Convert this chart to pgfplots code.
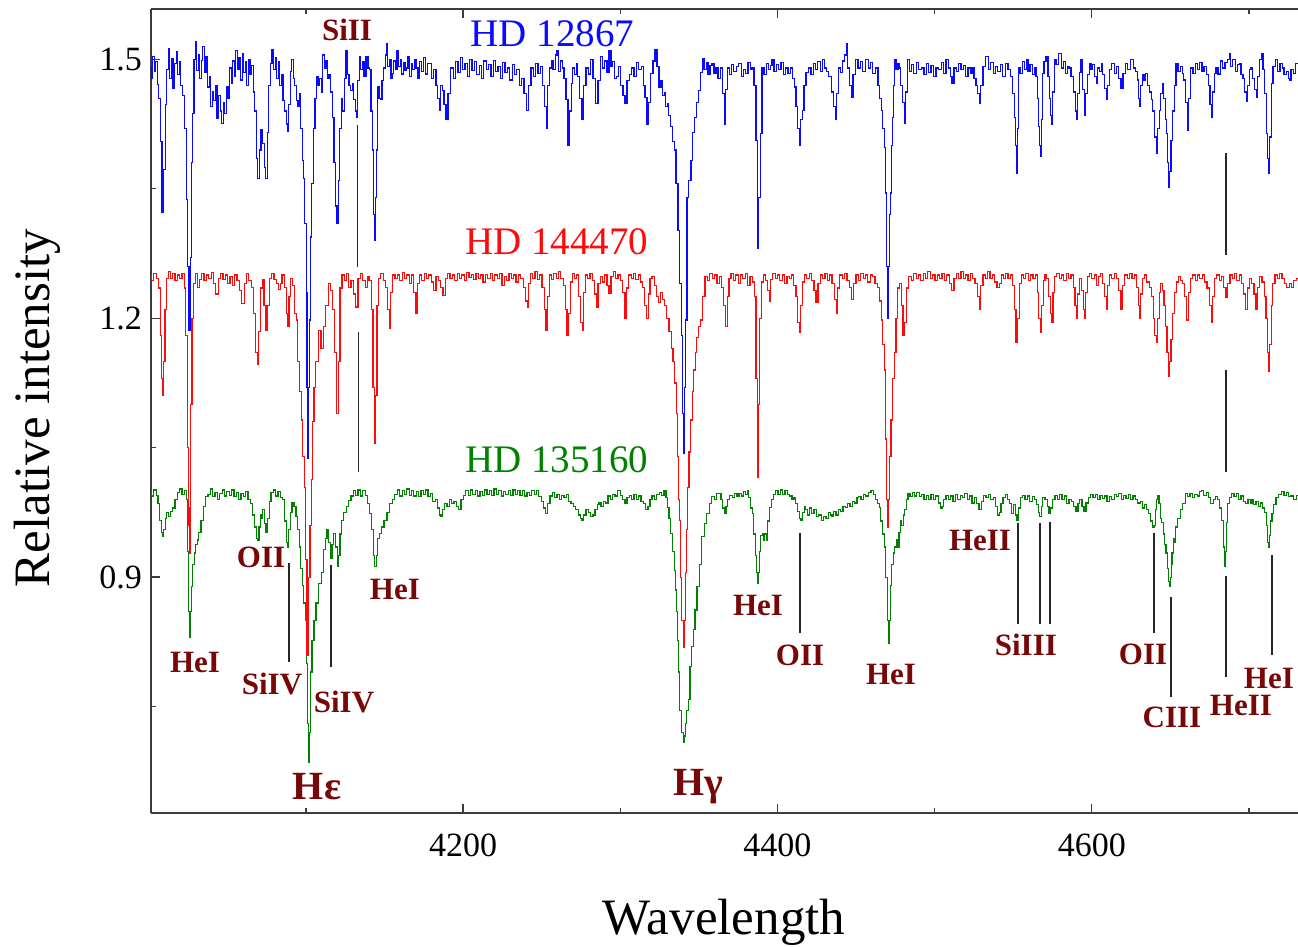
\documentclass[border=0pt]{standalone}
\usepackage{pgfplots}
\usepackage{pgfplotstable}
\pgfplotsset{compat=1.18}
\usepackage{fontspec}
\setmainfont{Liberation Serif}
\definecolor{specblue}{RGB}{10,10,255}
\definecolor{specred}{RGB}{255,10,10}
\definecolor{specgreen}{RGB}{0,130,0}
\definecolor{labred}{RGB}{120,8,8}
\definecolor{axgray}{RGB}{60,60,60}

\pgfplotstableread{
x y
4001 1.492
4002 1.478
4003 1.503
4004 1.486
4005 1.497
4006 1.471
4007 1.455
4008 1.405
4009 1.323
4010 1.372
4011 1.448
4012 1.488
4013 1.512
4014 1.478
4015 1.501
4016 1.466
4017 1.495
4018 1.509
4019 1.482
4020 1.497
4021 1.470
4022 1.458
4023.5 1.420
4024.5 1.338
4025.3 1.260
4026 1.186
4026.8 1.270
4027.5 1.380
4028.3 1.437
4029.3 1.500
4030.2 1.520
4031 1.487
4032 1.506
4033 1.478
4034 1.499
4035 1.515
4036 1.485
4037 1.503
4038 1.468
4039 1.480
4040 1.445
4041 1.462
4042 1.452
4043 1.470
4044 1.432
4045 1.458
4046 1.440
4047 1.426
4048 1.450
4049 1.437
4050 1.468
4051 1.455
4052 1.490
4053 1.472
4054 1.498
4055 1.480
4056 1.510
4057 1.488
4058 1.502
4059 1.476
4060 1.507
4061 1.485
4062 1.497
4063 1.470
4064 1.500
4065 1.482
4066 1.493
4067 1.462
4068 1.440
4069 1.385
4070 1.362
4071 1.395
4072 1.418
4073 1.402
4074 1.375
4075 1.362
4076 1.415
4077 1.470
4078 1.495
4079 1.511
4080 1.488
4081 1.502
4082 1.478
4083 1.497
4084 1.470
4085 1.482
4086 1.452
4087 1.440
4088 1.425
4088.7 1.416
4089.5 1.448
4090.5 1.486
4091.5 1.500
4092.5 1.478
4093.5 1.470
4094.5 1.452
4095.5 1.446
4096.3 1.460
4097.3 1.420
4098.2 1.383
4099 1.362
4099.8 1.310
4100.6 1.230
4101 1.120
4101.4 1.038
4101.9 1.120
4102.5 1.198
4103.4 1.294
4104.2 1.356
4105.3 1.420
4106.3 1.455
4107.3 1.480
4108.3 1.470
4109.3 1.478
4110.3 1.462
4111.3 1.505
4112.3 1.490
4113.3 1.498
4114.3 1.478
4115.3 1.482
4116.3 1.462
4117.3 1.433
4118.5 1.380
4119.5 1.330
4120.2 1.310
4121 1.360
4122 1.420
4123 1.455
4124 1.440
4125 1.478
4126 1.510
4127 1.482
4128 1.470
4129 1.464
4130 1.472
4131 1.453
4132 1.440
4132.6 1.433
4133.5 1.475
4134.5 1.503
4135.5 1.488
4136.5 1.497
4137.5 1.480
4139 1.503
4140 1.490
4141 1.488
4142 1.440
4142.7 1.395
4143.5 1.320
4144 1.290
4144.6 1.340
4145.3 1.395
4146 1.468
4147 1.455
4148 1.453
4149 1.475
4150 1.490
4151 1.505
4151.7 1.518
4152.7 1.492
4153.7 1.500
4154.7 1.478
4155.5 1.484
4156.5 1.498
4157.5 1.488
4158.6 1.510
4159.6 1.492
4160.6 1.500
4161.6 1.483
4162.6 1.496
4163.6 1.487
4164.5 1.490
4165.5 1.503
4166.5 1.480
4167.5 1.495
4168.5 1.488
4169.5 1.500
4170.7 1.490
4172 1.478
4173 1.497
4174 1.486
4175.5 1.502
4177 1.483
4178 1.495
4179 1.495
4180.5 1.478
4182 1.488
4183.5 1.470
4184.5 1.455
4185.4 1.441
4186.3 1.470
4187.3 1.464
4188.5 1.448
4189.8 1.430
4191 1.460
4193 1.490
4194.5 1.478
4196 1.497
4197.5 1.485
4199 1.502
4200.5 1.488
4202 1.495
4203.5 1.480
4205 1.500
4206.5 1.487
4208 1.497
4209.5 1.482
4211 1.493
4212.5 1.478
4214 1.498
4215.5 1.488
4217 1.494
4218.5 1.480
4220 1.499
4221.5 1.486
4223 1.492
4224.5 1.478
4226 1.496
4227.5 1.485
4229 1.490
4230.5 1.476
4232 1.494
4233.5 1.482
4235 1.488
4236.5 1.470
4238 1.478
4239.5 1.460
4241.3 1.441
4242.5 1.470
4244 1.490
4245.5 1.480
4247 1.495
4248.5 1.484
4250 1.492
4251.5 1.470
4252.5 1.445
4253.4 1.420
4254.3 1.470
4255.5 1.490
4256.6 1.499
4258 1.488
4259.2 1.505
4260.4 1.510
4261.5 1.486
4262.5 1.498
4263.6 1.490
4264.8 1.478
4266.2 1.453
4267.4 1.400
4268.4 1.440
4269.3 1.472
4270.5 1.490
4271.5 1.482
4272.5 1.495
4273.5 1.480
4275 1.455
4276.3 1.430
4277.5 1.470
4278.9 1.490
4280.5 1.483
4282 1.500
4283.5 1.478
4285.2 1.449
4286.5 1.475
4288.4 1.503
4289.5 1.490
4291 1.498
4292.2 1.485
4293.5 1.510
4294.7 1.492
4296 1.497
4297 1.478
4298 1.480
4299.5 1.492
4301 1.470
4302.5 1.458
4303.7 1.449
4305 1.475
4306.5 1.482
4308.1 1.490
4309.5 1.480
4311 1.496
4312.6 1.488
4314 1.492
4315.2 1.470
4316.4 1.456
4317.7 1.424
4318.8 1.450
4320.2 1.484
4321.5 1.498
4322.8 1.511
4324 1.492
4325.3 1.468
4326.5 1.475
4327.5 1.458
4328.5 1.461
4329.5 1.445
4330.4 1.449
4331.5 1.435
4333 1.422
4334 1.405
4334.9 1.395
4336.1 1.356
4337.4 1.302
4338.5 1.240
4339.3 1.180
4340 1.090
4340.6 1.043
4341.3 1.120
4341.9 1.198
4343.1 1.340
4344.3 1.360
4345.7 1.383
4346.7 1.415
4347.6 1.433
4349 1.450
4350.8 1.464
4351.8 1.485
4352.7 1.501
4354 1.488
4355.3 1.496
4356.5 1.482
4357.8 1.493
4359 1.495
4360.3 1.484
4361.5 1.490
4363 1.478
4364.8 1.490
4365.8 1.460
4366.7 1.424
4367.6 1.465
4368.6 1.490
4370 1.482
4371.5 1.494
4373 1.486
4374.5 1.492
4376.2 1.495
4377.7 1.480
4379 1.488
4380.7 1.484
4382 1.496
4383.3 1.488
4384.5 1.490
4385.8 1.470
4387 1.406
4387.7 1.281
4388.5 1.340
4389.6 1.414
4390.8 1.490
4392.2 1.482
4393.5 1.495
4395 1.488
4396 1.493
4397.2 1.500
4398.5 1.486
4400 1.494
4401.5 1.488
4403 1.496
4404.5 1.482
4406.1 1.490
4407.5 1.484
4409 1.490
4410.2 1.478
4411.2 1.468
4412.5 1.445
4413.5 1.420
4414.4 1.400
4415.3 1.430
4416.3 1.441
4417.5 1.470
4418.8 1.485
4420.7 1.490
4422 1.482
4423.5 1.495
4425 1.488
4426.5 1.497
4428 1.486
4429 1.500
4430.5 1.490
4432 1.486
4433.5 1.480
4435 1.462
4436.3 1.445
4437.3 1.430
4438.4 1.460
4439.8 1.490
4441 1.485
4442.3 1.498
4443.4 1.505
4444.3 1.518
4445.3 1.490
4446.5 1.470
4447.5 1.456
4448.6 1.482
4450.6 1.500
4452 1.490
4453.5 1.497
4455 1.486
4457 1.500
4458.5 1.490
4460 1.496
4461.5 1.484
4463.4 1.490
4464.5 1.470
4465.5 1.455
4466.5 1.441
4467.5 1.420
4468.4 1.398
4469.2 1.345
4469.8 1.260
4470.4 1.200
4471 1.260
4471.7 1.320
4472.3 1.345
4473 1.400
4473.5 1.433
4474.2 1.470
4474.8 1.500
4476.2 1.488
4477.2 1.495
4478 1.490
4479 1.470
4480.2 1.450
4481.2 1.426
4482.2 1.462
4483.1 1.500
4484.5 1.486
4486 1.494
4487.5 1.484
4489 1.496
4490.8 1.488
4492.6 1.490
4494 1.482
4495.5 1.495
4497 1.485
4498.5 1.493
4500 1.480
4501.7 1.490
4503.4 1.488
4505 1.496
4506.5 1.484
4508 1.500
4509.5 1.490
4510.5 1.480
4511.7 1.472
4513 1.490
4514.5 1.486
4516 1.495
4517.5 1.488
4519 1.493
4520.5 1.480
4522 1.490
4523.2 1.484
4524.4 1.490
4525.8 1.478
4527 1.470
4528 1.460
4528.9 1.449
4530 1.470
4531.5 1.492
4533.3 1.503
4535 1.488
4536.5 1.496
4538 1.484
4539.5 1.492
4541 1.486
4542.5 1.494
4544 1.480
4546 1.495
4547.5 1.488
4549 1.480
4550.3 1.460
4551.1 1.433
4551.8 1.400
4552.4 1.368
4553 1.420
4553.7 1.490
4555 1.484
4556.5 1.497
4558 1.488
4558.8 1.500
4560 1.486
4561.5 1.494
4563 1.482
4564 1.490
4565.1 1.480
4565.8 1.455
4566.4 1.422
4567.1 1.400
4567.7 1.387
4568.3 1.430
4569 1.484
4570.2 1.497
4571.5 1.503
4572.7 1.480
4573.5 1.455
4574.2 1.435
4574.7 1.424
4575.5 1.462
4576.6 1.500
4578 1.494
4579.8 1.507
4581.2 1.490
4582.5 1.497
4584 1.484
4585 1.492
4586.1 1.490
4587.5 1.480
4589 1.462
4590 1.440
4590.6 1.430
4591.5 1.460
4592.5 1.485
4593.8 1.500
4594.8 1.465
4595.7 1.435
4596.7 1.460
4597.8 1.482
4598.9 1.495
4600 1.488
4601.2 1.494
4602.3 1.480
4603.3 1.472
4604.5 1.490
4605.5 1.486
4606.5 1.495
4607.5 1.482
4608.6 1.466
4609.7 1.454
4610.8 1.470
4612 1.488
4613.5 1.495
4615 1.484
4616.5 1.492
4618 1.478
4619.2 1.466
4620.5 1.484
4622 1.495
4623.8 1.488
4625.6 1.500
4627 1.490
4628.3 1.486
4629.4 1.476
4630.1 1.455
4630.7 1.445
4631.5 1.470
4632.6 1.482
4633.8 1.476
4635 1.484
4636.2 1.470
4637.3 1.462
4638.3 1.453
4639.3 1.440
4640.5 1.410
4641.5 1.391
4642.5 1.420
4643.4 1.441
4644.3 1.460
4645.3 1.472
4646.3 1.455
4647.2 1.430
4647.8 1.414
4648.5 1.380
4649.1 1.352
4649.8 1.370
4651 1.406
4652 1.440
4653 1.470
4654.2 1.495
4655.5 1.486
4657 1.492
4658 1.484
4659 1.476
4660.2 1.450
4661.2 1.418
4662.2 1.455
4663.7 1.490
4665 1.484
4666.5 1.495
4668 1.488
4669.5 1.496
4670.7 1.486
4672 1.492
4673.5 1.482
4674.8 1.470
4675.7 1.448
4676.5 1.433
4677.5 1.462
4678.5 1.484
4679.6 1.490
4681 1.483
4682.5 1.498
4684 1.490
4685.5 1.496
4687 1.500
4687.9 1.507
4689 1.492
4690.5 1.500
4692 1.486
4693.2 1.494
4694.3 1.495
4695.5 1.482
4696.8 1.478
4697.8 1.462
4698.7 1.451
4699.8 1.470
4700.8 1.488
4701.9 1.490
4703 1.478
4704.2 1.465
4705.1 1.456
4706.2 1.480
4707.2 1.500
4708.3 1.507
4709.5 1.488
4710.5 1.460
4711.5 1.414
4712.2 1.385
4712.8 1.368
4713.6 1.410
4714.7 1.472
4716 1.492
4717.8 1.500
4719 1.486
4720.5 1.495
4721.7 1.490
4723 1.482
4724.5 1.486
4725.5 1.478
4726.1 1.476
4727.5 1.488
4729 1.484
4730 1.495
4731 1.495
}\bluedata

\pgfplotstableread{
x y
4001 1.250
4002.5 1.244
4004 1.252
4005.5 1.246
4007 1.235
4008 1.180
4008.7 1.130
4009.3 1.110
4010 1.150
4010.8 1.210
4011.8 1.246
4013 1.254
4014.5 1.246
4016 1.252
4017.5 1.244
4019 1.250
4020.5 1.246
4022 1.252
4023.2 1.235
4024.2 1.180
4025 1.050
4025.6 0.960
4026 0.928
4026.5 0.980
4027.2 1.100
4028 1.200
4029 1.240
4030.5 1.252
4032 1.236
4033 1.245
4034.5 1.252
4036 1.244
4037.5 1.250
4039 1.246
4040.5 1.253
4042 1.240
4043.5 1.228
4045 1.246
4046.5 1.252
4048 1.245
4049.5 1.250
4051 1.240
4052.5 1.248
4054 1.238
4055.5 1.250
4057 1.244
4058.5 1.232
4060 1.217
4061.5 1.240
4063 1.252
4064.5 1.244
4066 1.236
4067.3 1.205
4068.5 1.160
4069.6 1.146
4070.6 1.185
4071.6 1.235
4072.8 1.245
4074 1.215
4075.3 1.186
4076.3 1.215
4077.5 1.246
4079 1.252
4080.5 1.245
4082 1.240
4083.2 1.233
4084.3 1.240
4085.5 1.250
4087 1.236
4088 1.205
4088.8 1.190
4089.7 1.225
4091 1.246
4092.5 1.238
4093.5 1.205
4094.4 1.198
4095.5 1.150
4096.6 1.115
4097.6 1.082
4098.6 1.040
4099.4 1.004
4100.3 0.920
4101.3 0.809
4102.2 0.900
4103 0.960
4103.8 1.013
4104.8 1.080
4105.7 1.120
4107 1.150
4108.9 1.186
4110.5 1.165
4112 1.190
4113.5 1.215
4115 1.240
4116.5 1.232
4117.8 1.210
4119 1.160
4120.2 1.090
4121.2 1.150
4122.3 1.235
4123.7 1.250
4125 1.244
4126.5 1.252
4128 1.236
4129.5 1.244
4131 1.228
4132.5 1.213
4134 1.246
4135.5 1.252
4137 1.244
4138.5 1.236
4139.5 1.248
4141 1.244
4142.2 1.210
4143.2 1.120
4144 1.055
4144.8 1.110
4145.8 1.215
4147 1.246
4148.5 1.252
4150 1.244
4151.5 1.236
4152.5 1.210
4153.6 1.188
4154.6 1.230
4156 1.250
4157.5 1.246
4159 1.250
4160.5 1.244
4162 1.253
4163.5 1.246
4165 1.250
4166.5 1.240
4168 1.250
4169.5 1.230
4170.7 1.206
4171.8 1.240
4173 1.250
4174.5 1.244
4176 1.252
4177.5 1.246
4179 1.250
4180.5 1.242
4182 1.232
4183.5 1.248
4185 1.244
4186.5 1.236
4188 1.226
4189.5 1.246
4191 1.252
4192.5 1.246
4194 1.250
4195.5 1.244
4197 1.252
4198.5 1.246
4200 1.250
4201.5 1.244
4203 1.253
4204.5 1.247
4206 1.251
4207.5 1.245
4209 1.252
4210.5 1.246
4212 1.250
4213.5 1.242
4215 1.251
4216.5 1.246
4218 1.252
4219.5 1.244
4221 1.250
4222.5 1.246
4224 1.252
4225.5 1.238
4227 1.248
4228.5 1.244
4230 1.252
4231.5 1.246
4233 1.250
4234.5 1.242
4236 1.250
4237.5 1.246
4239 1.236
4240.3 1.220
4241.3 1.212
4242.3 1.240
4243.5 1.252
4245 1.246
4246.5 1.254
4248 1.245
4249.5 1.250
4251 1.236
4252.3 1.210
4253.4 1.186
4254.4 1.225
4255.5 1.250
4257 1.245
4258.5 1.252
4260 1.246
4261.5 1.254
4263 1.246
4264.5 1.238
4265.7 1.210
4266.7 1.180
4267.7 1.205
4268.8 1.242
4270 1.252
4271.5 1.246
4273 1.250
4274.3 1.225
4275.3 1.195
4276.3 1.186
4277.3 1.230
4278.5 1.250
4280 1.246
4281.5 1.252
4283 1.244
4284.3 1.228
4285.3 1.213
4286.5 1.240
4288 1.248
4289.5 1.242
4291 1.250
4292.3 1.238
4293.5 1.229
4294.8 1.248
4296.3 1.254
4297.8 1.246
4299.3 1.250
4300.8 1.244
4302.3 1.230
4303.7 1.200
4304.8 1.235
4306.2 1.250
4307.7 1.246
4309.2 1.252
4310.7 1.245
4312.2 1.250
4313.7 1.242
4315 1.236
4316.2 1.215
4317.2 1.200
4318.3 1.228
4319.5 1.246
4320.9 1.248
4322.3 1.238
4323.7 1.225
4325 1.218
4326.3 1.230
4327.6 1.222
4329 1.215
4330.4 1.200
4331.8 1.185
4333 1.165
4334.2 1.150
4335.3 1.125
4336.1 1.090
4336.6 1.040
4337.4 0.990
4337.9 0.966
4338.8 0.900
4339.6 0.850
4340.5 0.818
4341.3 0.850
4342.1 0.905
4342.7 0.955
4343.3 1.004
4344.3 1.045
4345.3 1.082
4346.3 1.115
4347.2 1.140
4348.2 1.160
4349.1 1.178
4350.4 1.190
4351.7 1.198
4353.2 1.225
4354.8 1.248
4356.3 1.244
4357.8 1.252
4359.3 1.246
4360.8 1.250
4362.3 1.240
4363.8 1.248
4365.3 1.236
4366.5 1.215
4367.6 1.190
4368.6 1.225
4369.8 1.246
4371.3 1.252
4372.8 1.244
4374.3 1.250
4375.8 1.240
4377.3 1.250
4378.8 1.246
4380.3 1.252
4381.8 1.238
4383.3 1.248
4384.8 1.242
4386 1.225
4386.9 1.130
4387.7 1.016
4388.4 1.100
4389.2 1.200
4390.3 1.242
4391.8 1.250
4393.3 1.244
4394.5 1.232
4395.3 1.220
4396.3 1.245
4397.8 1.252
4399.3 1.246
4400.8 1.250
4402.3 1.244
4403.8 1.250
4405.3 1.240
4406.8 1.248
4408.3 1.246
4409.8 1.250
4411.2 1.238
4412.5 1.225
4413.5 1.195
4414.4 1.184
4415.4 1.215
4416.5 1.242
4418 1.250
4419.5 1.246
4421 1.252
4422.5 1.244
4424 1.232
4425.2 1.218
4426.4 1.240
4428 1.250
4429.5 1.246
4431 1.252
4432.5 1.244
4434 1.250
4435.5 1.240
4436.8 1.222
4437.9 1.205
4439 1.235
4440.5 1.250
4442 1.246
4443.5 1.252
4445 1.244
4446.5 1.236
4448 1.222
4449.3 1.240
4450.8 1.250
4452.3 1.244
4453.8 1.252
4455.3 1.246
4456.8 1.250
4458.3 1.242
4459.8 1.250
4461.3 1.248
4462.8 1.240
4464.3 1.236
4465.5 1.220
4466.5 1.198
4467.5 1.170
4468.4 1.140
4469.2 1.060
4469.8 0.990
4470.4 0.958
4471 0.990
4471.7 1.040
4472.9 1.082
4474 1.130
4474.8 1.160
4476 1.200
4477.3 1.235
4478.5 1.240
4479.5 1.215
4480.4 1.180
4481.3 1.195
4482.5 1.235
4484.4 1.248
4486 1.244
4487.5 1.252
4489 1.246
4490.5 1.250
4492 1.244
4493.5 1.252
4495 1.246
4496.5 1.254
4498 1.246
4499.5 1.250
4501 1.244
4502.5 1.250
4504 1.246
4505.5 1.252
4507 1.244
4508.5 1.250
4510 1.240
4511.7 1.232
4513 1.246
4514.5 1.252
4516 1.246
4517.5 1.254
4519 1.246
4520.5 1.250
4522 1.244
4523.5 1.252
4525 1.246
4526.5 1.240
4527.8 1.225
4528.9 1.210
4530 1.238
4531.5 1.250
4533 1.246
4534.5 1.254
4536 1.246
4537.5 1.250
4539 1.242
4540.5 1.236
4541.8 1.240
4543 1.250
4544.5 1.246
4546 1.252
4547.5 1.246
4549 1.250
4550.3 1.238
4551.3 1.210
4552.4 1.172
4553.3 1.200
4554.3 1.240
4555.8 1.250
4557.3 1.246
4558.8 1.252
4560.3 1.244
4561.8 1.250
4563.3 1.246
4564.8 1.250
4565.9 1.230
4566.8 1.200
4567.7 1.184
4568.6 1.215
4569.6 1.244
4570.8 1.250
4572 1.246
4573.3 1.225
4574.2 1.205
4574.9 1.195
4575.8 1.230
4577 1.248
4578.5 1.252
4580 1.246
4581.5 1.250
4583 1.244
4584.5 1.252
4586 1.246
4587.5 1.250
4588.8 1.236
4589.8 1.215
4590.6 1.200
4591.5 1.228
4592.8 1.246
4594 1.232
4595 1.210
4595.7 1.200
4596.6 1.230
4597.8 1.248
4599.3 1.252
4600.8 1.246
4602.3 1.250
4603.5 1.238
4604.8 1.248
4606.3 1.252
4607.6 1.240
4608.7 1.225
4609.7 1.210
4610.7 1.238
4612 1.250
4613.5 1.246
4615 1.252
4616.5 1.246
4617.9 1.232
4619.2 1.210
4620.3 1.238
4621.8 1.250
4623.3 1.246
4624.8 1.252
4626.3 1.246
4627.8 1.250
4629 1.236
4630 1.215
4630.7 1.200
4631.6 1.228
4632.8 1.246
4634.3 1.250
4635.8 1.242
4637.3 1.236
4638.5 1.225
4639.6 1.200
4640.6 1.180
4641.5 1.172
4642.4 1.200
4643.3 1.230
4644.4 1.240
4645.5 1.232
4646.5 1.215
4647.5 1.190
4648.3 1.160
4649.1 1.132
4649.9 1.150
4650.8 1.175
4651.8 1.205
4653 1.230
4654.4 1.242
4655.8 1.248
4657.2 1.244
4658.6 1.240
4659.8 1.225
4661.2 1.198
4662.3 1.230
4663.5 1.246
4665 1.250
4666.5 1.244
4668 1.250
4669.5 1.246
4671 1.250
4672.5 1.242
4674 1.235
4675.4 1.215
4676.5 1.195
4677.5 1.225
4678.8 1.246
4680.3 1.250
4681.8 1.244
4683.3 1.248
4684.8 1.236
4686 1.224
4687.2 1.240
4688.6 1.250
4690 1.246
4691.5 1.252
4693 1.244
4694.5 1.250
4696 1.240
4697.4 1.228
4698.7 1.210
4699.8 1.235
4701 1.246
4702.5 1.240
4703.8 1.228
4705.1 1.210
4706.2 1.236
4707.5 1.248
4709 1.242
4710.3 1.225
4711.3 1.200
4712.2 1.160
4712.8 1.138
4713.6 1.170
4714.6 1.215
4715.8 1.240
4717.3 1.250
4718.8 1.246
4720.3 1.252
4721.8 1.246
4723.3 1.240
4724.8 1.236
4726.3 1.240
4727.8 1.236
4729.3 1.244
4731 1.246
}\reddata

\pgfplotstableread{
x y
4001 1.000
4002.5 0.994
4004 1.001
4005.5 0.995
4006.5 0.985
4007.5 0.966
4008.5 0.952
4009.2 0.947
4010 0.955
4011 0.968
4012 0.975
4013 0.970
4014.5 0.976
4016 0.980
4017.5 0.990
4019 0.998
4020.5 1.002
4022 0.996
4023.5 1.000
4024.5 0.990
4025.2 0.930
4025.8 0.860
4026.3 0.830
4026.8 0.860
4027.5 0.889
4028.5 0.915
4029.5 0.928
4030.5 0.938
4031.4 0.943
4032.5 0.952
4034 0.966
4035.5 0.982
4037 0.993
4038.5 0.996
4040 1.002
4041.5 0.993
4043 0.998
4044.5 0.990
4046 0.997
4047.5 1.001
4049 0.994
4050.5 0.999
4052 0.995
4053.5 1.001
4055 0.993
4056.5 0.998
4058 0.990
4059.5 0.997
4061 0.993
4062.5 0.999
4064 0.990
4065.5 0.985
4066.8 0.972
4068 0.958
4069 0.945
4069.8 0.943
4070.6 0.958
4071.4 0.972
4072.2 0.968
4073 0.978
4074 0.962
4075.3 0.952
4076.3 0.968
4077.3 0.988
4078.5 0.998
4080 1.001
4081.5 0.994
4083 0.999
4084.5 0.992
4086 0.990
4087.3 0.965
4088.2 0.940
4088.8 0.935
4089.6 0.955
4090.5 0.975
4091.9 0.986
4093 0.982
4094.4 0.970
4095.5 0.955
4096.3 0.935
4097.3 0.910
4098.2 0.890
4099.2 0.870
4100.1 0.850
4100.8 0.800
4101.5 0.730
4102 0.685
4102.5 0.720
4103.3 0.790
4104.6 0.827
4105.8 0.850
4107.2 0.870
4109 0.893
4110.5 0.905
4112.1 0.932
4113 0.945
4114 0.955
4115 0.940
4116.2 0.922
4117.2 0.938
4118.4 0.951
4119.4 0.935
4120.4 0.912
4121.3 0.925
4122.3 0.950
4123.4 0.966
4125 0.975
4126.5 0.982
4127.9 0.989
4129.5 0.994
4131 1.000
4132.5 0.995
4134 1.001
4135.5 0.994
4137 1.000
4138.5 0.995
4140 0.985
4141.2 0.974
4142.5 0.955
4143.5 0.925
4144.3 0.912
4145.2 0.925
4146.2 0.945
4147.5 0.951
4148.8 0.958
4150.7 0.966
4152.5 0.975
4154 0.985
4155.8 0.990
4157.5 0.996
4159 1.001
4160.5 0.994
4162 1.000
4163.5 0.996
4165 1.002
4166.5 0.995
4168 1.000
4169.5 0.994
4171 0.999
4172.5 0.993
4174 1.000
4175.5 0.996
4177 1.001
4178.5 0.993
4180 0.997
4181.5 0.988
4183 0.990
4184.5 0.980
4185.5 0.972
4186.5 0.970
4187.5 0.978
4189 0.985
4190.5 0.982
4192 0.990
4193.5 0.985
4195 0.988
4196.5 0.982
4198 0.978
4199.5 0.990
4201 0.995
4202.5 1.000
4204 0.995
4205.5 1.001
4207 0.996
4208.5 1.000
4210 0.994
4211.5 0.999
4213 0.995
4214.5 1.001
4216 0.996
4217.5 1.000
4219 0.995
4220.5 1.002
4222 0.996
4223.5 1.000
4225 0.994
4226.5 0.999
4228 0.996
4229.5 1.000
4231 0.995
4232.5 1.001
4234 0.996
4235.5 1.000
4237 0.995
4238.5 1.000
4240 0.994
4241.5 0.998
4243 0.995
4244.5 1.000
4246 0.996
4247.5 1.000
4249 0.993
4250.5 0.988
4251.8 0.980
4253.4 0.974
4254.6 0.985
4256 0.994
4257.5 0.998
4259 0.992
4260.5 0.996
4262 0.990
4263.5 0.995
4265 0.992
4266.5 0.996
4268 0.988
4269.5 0.985
4271 0.982
4272.5 0.978
4274 0.972
4275 0.968
4276.3 0.966
4277.5 0.972
4279 0.978
4280.5 0.975
4282 0.970
4283.3 0.972
4284.7 0.978
4286 0.984
4287 0.986
4288.5 0.982
4290 0.988
4291.5 0.986
4293 0.994
4294.5 0.990
4296 0.996
4297.5 0.994
4299.4 1.000
4300.8 0.995
4302.3 0.990
4303.7 0.986
4305 0.992
4306.5 0.995
4308 0.990
4309.5 0.996
4311 0.990
4312.5 0.994
4314 0.988
4315.5 0.985
4317 0.978
4318.3 0.982
4319.5 0.990
4321 0.994
4322.5 0.990
4324 0.996
4325.5 0.998
4327 0.995
4328.6 1.000
4329.6 0.992
4330.5 0.981
4331.5 0.968
4332.4 0.951
4333.7 0.930
4334.9 0.908
4335.6 0.885
4336.3 0.860
4336.8 0.827
4337.4 0.790
4338.5 0.745
4339.6 0.720
4340.6 0.708
4341.3 0.716
4341.9 0.730
4342.8 0.745
4343.8 0.758
4345 0.796
4346 0.820
4346.9 0.839
4348.2 0.862
4349.5 0.889
4351 0.915
4352.7 0.947
4354.3 0.962
4355.9 0.974
4357.5 0.985
4359 0.993
4360.5 0.990
4362 0.997
4363.4 0.997
4364.8 0.990
4365.8 0.980
4366.7 0.974
4367.8 0.982
4369 0.990
4370.5 0.995
4372 0.992
4373.5 0.997
4375 0.993
4376.2 0.997
4377.7 0.994
4379.2 0.999
4380.6 0.996
4381.2 1.000
4382.5 0.992
4383.6 0.980
4384.4 0.974
4385.5 0.950
4386.5 0.925
4387.2 0.905
4387.7 0.893
4388.3 0.905
4389 0.930
4389.8 0.948
4390.8 0.951
4391.6 0.942
4392.5 0.950
4393.4 0.943
4394.3 0.965
4395.3 0.981
4396.8 0.990
4398.3 0.996
4399.7 1.000
4401.2 0.996
4402.7 1.001
4404.2 0.996
4405.6 1.000
4407 0.996
4408.5 0.994
4410 0.990
4411.2 0.992
4412.3 0.985
4413.5 0.976
4414.6 0.968
4415.5 0.966
4416.5 0.975
4417.5 0.982
4418.7 0.978
4420 0.972
4421.2 0.980
4422.5 0.974
4424 0.978
4425.5 0.970
4427 0.972
4428.8 0.966
4430.2 0.970
4431.6 0.968
4433 0.975
4434.2 0.972
4435.2 0.970
4436.5 0.976
4438 0.972
4439.5 0.978
4441 0.976
4442.5 0.982
4444 0.981
4445.5 0.985
4447 0.982
4448.5 0.988
4450 0.986
4451.2 0.992
4452.4 0.993
4454 0.990
4455.5 0.996
4457 0.994
4458.5 0.998
4460.7 1.000
4462 0.996
4463.3 0.990
4464.3 0.985
4465.2 0.981
4466.5 0.965
4467.5 0.950
4468.4 0.935
4469.5 0.900
4470.4 0.850
4471 0.823
4471.6 0.850
4472.3 0.890
4473.2 0.915
4474.2 0.928
4475.2 0.935
4476.1 0.943
4477 0.935
4477.8 0.952
4478.6 0.966
4479.5 0.960
4480.5 0.972
4481.5 0.978
4482.6 0.990
4483.7 0.997
4485 0.993
4486.5 0.998
4488 0.994
4489.5 0.998
4491 0.993
4492.5 0.996
4494 0.990
4495.5 0.995
4497 0.990
4498.5 0.996
4500 0.990
4501.5 0.994
4503 0.986
4504.2 0.980
4505.2 0.982
4506.5 0.990
4508 0.995
4509.5 0.990
4511 0.994
4512.5 0.988
4514 0.996
4515.5 0.990
4517 0.995
4518.5 0.992
4520 0.997
4521.5 0.990
4523 0.994
4524.5 0.986
4526 0.992
4527.5 0.985
4529 0.978
4530.5 0.988
4532 0.995
4533.5 0.992
4535 0.996
4536.5 0.990
4538 0.992
4539.3 0.982
4540.5 0.972
4541.6 0.975
4542.8 0.985
4544.3 0.992
4545.8 0.996
4547.3 0.990
4548.5 0.985
4549.8 0.974
4551 0.984
4552 0.972
4552.8 0.966
4553.8 0.980
4555.3 0.992
4556.8 0.995
4558.3 0.990
4559.8 0.994
4561.3 0.988
4562.8 0.993
4564.2 0.990
4565.5 0.984
4566.5 0.975
4567.3 0.970
4568.3 0.982
4569.5 0.992
4571 0.990
4572.3 0.982
4573.4 0.974
4574.5 0.980
4575.8 0.990
4577.3 0.995
4578.8 0.990
4580.3 0.996
4581.8 0.990
4583.3 0.994
4584.8 0.985
4586.3 0.990
4587.8 0.988
4589.3 0.982
4590.6 0.976
4591.8 0.985
4593 0.990
4594.5 0.982
4595.7 0.976
4597 0.986
4598.5 0.992
4600 0.996
4601.5 0.992
4603 0.996
4604.5 0.990
4606 0.995
4607.5 0.991
4609 0.994
4610.5 0.988
4612 0.993
4613.5 0.990
4615 0.996
4616.5 0.993
4618 0.997
4619.5 0.990
4621 0.995
4622.5 0.991
4624 0.996
4625.5 0.990
4627 0.994
4628.5 0.990
4630 0.986
4631.5 0.988
4632.8 0.980
4634 0.984
4635.5 0.978
4636.8 0.974
4638 0.965
4639.2 0.958
4640 0.960
4640.8 0.978
4641.6 0.990
4642.4 0.995
4643.2 0.985
4644.2 0.968
4645 0.963
4646 0.950
4646.8 0.938
4647.6 0.928
4648.4 0.910
4649 0.895
4649.5 0.889
4650.2 0.900
4650.8 0.915
4651.4 0.928
4652.2 0.945
4653 0.940
4654 0.958
4655.5 0.968
4657 0.978
4658.5 0.985
4660.3 0.997
4661.8 0.993
4663.3 0.997
4664.8 0.992
4666.3 0.996
4667.8 0.994
4669.3 0.999
4670.5 1.000
4672 0.995
4673.5 0.998
4675 0.992
4676.5 0.985
4678 0.990
4679.4 0.993
4680.8 0.990
4682 0.980
4683.3 0.966
4684 0.935
4684.6 0.912
4685.3 0.930
4685.9 0.963
4687 0.985
4688.3 0.992
4689.7 0.997
4691.2 0.993
4692.7 0.997
4694.2 0.990
4695.7 0.994
4697.2 0.988
4698.7 0.985
4700.2 0.990
4701.5 0.986
4702.4 0.990
4703.8 0.984
4705.2 0.988
4706.7 0.982
4708.2 0.986
4709.5 0.980
4710.6 0.975
4711.5 0.960
4712.2 0.940
4712.6 0.935
4713.3 0.948
4714.2 0.965
4715.1 0.974
4716.5 0.984
4718 0.992
4719.5 0.996
4721.5 0.999
4723 0.995
4724.5 0.998
4726 0.993
4727.5 0.994
4729 0.990
4731 0.995
}\greendata

\begin{document}
\begin{tikzpicture}
\useasboundingbox (-75.5pt,-67pt) rectangle (573.5pt,406.5pt);
\begin{axis}[
  at={(0pt,0pt)}, anchor=south west,
  scale only axis, width=573.5pt, height=402pt,
  xmin=4001.5, xmax=4731.2, ymin=0.6267, ymax=1.5583,
  axis x line*=box, axis y line*=left,
  xtick pos=both, ytick pos=left,
  axis line style={line width=0.75pt, axgray},
  tick style={line width=0.7pt, axgray},
  major tick length=4.5pt, minor tick length=2.5pt,
  xtick={4200,4400,4600}, minor xtick={4100,4300,4500,4700},
  ytick={0.9,1.2,1.5}, minor ytick={0.75,1.05,1.35},
  /pgf/number format/assume math mode=true,
  /pgf/number format/set thousands separator={},
  yticklabel style={/pgf/number format/fixed, /pgf/number format/fixed zerofill, /pgf/number format/precision=1},
  tick label style={font=\rmfamily\fontsize{17}{20}\selectfont, black},
  xticklabel style={yshift=-7pt},
  yticklabel style={xshift=-1pt},
  xlabel={Wavelength},
  xlabel style={at={(axis description cs:0.4996,-0.1517)}, anchor=base, font=\rmfamily\fontsize{25.5}{30}\selectfont},
  ylabel={Relative intensity},
  ylabel style={at={(axis description cs:-0.0881,0.5037)}, anchor=base, font=\rmfamily\fontsize{25.5}{30}\selectfont},
  clip=true,
]
\addplot[specgreen, line width=0.6pt, const plot mark mid] table[x=x,y=y] {\greendata};
\addplot[specred, line width=0.6pt, const plot mark mid] table[x=x,y=y] {\reddata};
\addplot[specblue, line width=0.6pt, const plot mark mid] table[x=x,y=y] {\bluedata};
% line markers
\addplot[black!85, line width=0.7pt, unbounded coords=jump] coordinates {
(4133,1.4238) (4133,1.2594) (4133,nan)
(4133.5,1.184) (4133.5,1.022) (4133.5,nan)
(4089.3,0.9163) (4089.3,0.8016) (4089.3,nan)
(4116,0.914) (4116,0.796) (4116,nan)
(4414.4,0.9514) (4414.4,0.8355) (4414.4,nan)
(4553,0.9628) (4553,0.8458) (4553,nan)
(4567,0.9628) (4567,0.8458) (4567,nan)
(4573.4,0.9640) (4573.4,0.8458) (4573.4,nan)
(4639.6,0.9514) (4639.6,0.8355) (4639.6,nan)
(4650.4,0.8772) (4650.4,0.7613) (4650.4,nan)
(4685.4,1.3914) (4685.4,1.2732) (4685.4,nan)
(4685.4,1.1400) (4685.4,1.0218) (4685.4,nan)
(4685.4,0.9013) (4685.4,0.7843) (4685.4,nan)
(4714.6,0.9256) (4714.6,0.8097)
};
% star names
\node[anchor=base west, inner sep=0pt, text=specblue, font=\rmfamily\fontsize{19.5}{22}\selectfont] at (axis cs:4204.5,1.5143) {HD 12867};
\node[anchor=base west, inner sep=0pt, text=specred, font=\rmfamily\fontsize{19.5}{22}\selectfont] at (axis cs:4201.3,1.2733) {HD 144470};
\node[anchor=base west, inner sep=0pt, text=specgreen, font=\rmfamily\fontsize{19.5}{22}\selectfont] at (axis cs:4201.3,1.0207) {HD 135160};
% line identifications
\begin{scope}[every node/.style={text=labred, inner sep=0pt, font=\rmfamily\bfseries\fontsize{15.5}{18}\selectfont}]
\node at (axis cs:4126.2,1.534) {SiII};
\node at (axis cs:4029.5,0.8016) {HeI};
\node at (axis cs:4071.5,0.9233) {OII};
\node at (axis cs:4078.5,0.7761) {SiIV};
\node at (axis cs:4124.3,0.7553) {SiIV};
\node at (axis cs:4156.7,0.8851) {HeI};
\node at (axis cs:4387.7,0.8677) {HeI};
\node at (axis cs:4414.4,0.8097) {OII};
\node at (axis cs:4472.3,0.7877) {HeI};
\node at (axis cs:4528.9,0.9430) {HeII};
\node at (axis cs:4558.1,0.8213) {SiIII};
\node at (axis cs:4632.6,0.8109) {OII};
\node at (axis cs:4651.0,0.7379) {CIII};
\node at (axis cs:4694.9,0.7518) {HeII};
\node at (axis cs:4712.7,0.7831) {HeI};
\node[font=\rmfamily\bfseries\fontsize{20}{24}\selectfont] at (axis cs:4107.1,0.6568) {Hε};
\node[font=\rmfamily\bfseries\fontsize{20}{24}\selectfont] at (axis cs:4349.5,0.6568) {Hγ};
\end{scope}
\end{axis}
\end{tikzpicture}
\end{document}
